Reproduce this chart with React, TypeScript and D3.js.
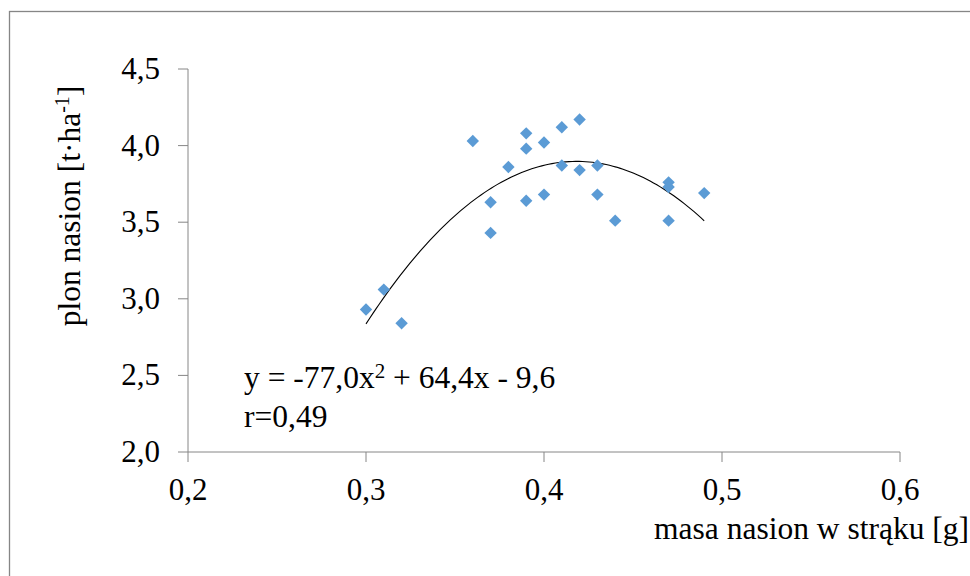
import React from "react";
import * as d3 from "d3";

const massX: number[] = [0.30, 0.31, 0.32, 0.36, 0.37, 0.37, 0.38, 0.39, 0.39, 0.39, 0.40, 0.40, 0.41, 0.41, 0.42, 0.42, 0.43, 0.43, 0.44, 0.47, 0.47, 0.47, 0.49];
const yieldY: number[] = [2.93, 3.06, 2.84, 4.03, 3.63, 3.43, 3.86, 4.08, 3.98, 3.64, 4.02, 3.68, 4.12, 3.87, 4.17, 3.84, 3.87, 3.68, 3.51, 3.76, 3.73, 3.51, 3.69];
const xTicks: number[] = [0.2, 0.3, 0.4, 0.5, 0.6];
const yTicks: number[] = [2.0, 2.5, 3.0, 3.5, 4.0, 4.5];
const eqText = { pre: "y = -77,0x", sup: "2", post: " + 64,4x - 9,6" };
const rText = "r=0,49";
const xTitle = "masa nasion w strąku [g]";
const yTitle = { pre: "plon nasion [t·ha", sup: "-1", post: "]" };

function quadFit(xs: number[], ys: number[]): [number, number, number] {
  // least squares y = a x^2 + b x + c
  let s0 = xs.length, s1 = 0, s2 = 0, s3 = 0, s4 = 0, t0 = 0, t1 = 0, t2 = 0;
  xs.forEach((x, i) => {
    const y = ys[i];
    s1 += x; s2 += x * x; s3 += x * x * x; s4 += x * x * x * x;
    t0 += y; t1 += x * y; t2 += x * x * y;
  });
  const M = [
    [s4, s3, s2, t2],
    [s3, s2, s1, t1],
    [s2, s1, s0, t0],
  ];
  for (let i = 0; i < 3; i++) {
    let p = i;
    for (let r = i + 1; r < 3; r++) if (Math.abs(M[r][i]) > Math.abs(M[p][i])) p = r;
    [M[i], M[p]] = [M[p], M[i]];
    for (let r = 0; r < 3; r++) {
      if (r === i) continue;
      const f = M[r][i] / M[i][i];
      for (let c = i; c < 4; c++) M[r][c] -= f * M[i][c];
    }
  }
  return [M[0][3] / M[0][0], M[1][3] / M[1][1], M[2][3] / M[2][2]];
}

export default function App() {
  const W = 970, H = 576;
  const x = d3.scaleLinear().domain([0.2, 0.6]).range([188, 900]);
  const y = d3.scaleLinear().domain([2.0, 4.5]).range([452, 69]);
  const fmt = (v: number) => d3.format(".1f")(v).replace(".", ",");
  const [a, b, c] = quadFit(massX, yieldY);
  const xMin = d3.min(massX) as number;
  const xMax = d3.max(massX) as number;
  const curvePts = d3.range(0, 101).map((i) => {
    const xv = xMin + ((xMax - xMin) * i) / 100;
    return [xv, a * xv * xv + b * xv + c] as [number, number];
  });
  const line = d3.line<[number, number]>().x((d) => x(d[0])).y((d) => y(d[1]));
  const diamond = d3.symbol().type(d3.symbolDiamond2).size(98)();
  const axisColor = "#868686";
  const font = "'Liberation Serif', 'Times New Roman', serif";

  return (
    <svg
      width={W}
      height={H}
      style={{ position: "absolute", left: 0, top: 0, background: "#fff" }}
      fontFamily={font}
    >
      <rect x={9.5} y={11.5} width={1000} height={1000} fill="#fff" stroke={axisColor} strokeWidth={1.3} />
      {/* axes */}
      <line x1={x(0.2)} x2={x(0.2)} y1={y(2.0)} y2={y(4.5)} stroke={axisColor} strokeWidth={1} />
      <line x1={x(0.2)} x2={x(0.6)} y1={y(2.0)} y2={y(2.0)} stroke={axisColor} strokeWidth={1} />
      {yTicks.map((t) => (
        <g key={"y" + t}>
          <line x1={x(0.2) - 10} x2={x(0.2)} y1={y(t)} y2={y(t)} stroke={axisColor} />
          <text x={160} y={y(t) + 10} textAnchor="end" fontSize={31} fill="#000">
            {fmt(t)}
          </text>
        </g>
      ))}
      {xTicks.map((t) => (
        <g key={"x" + t}>
          <line x1={x(t)} x2={x(t)} y1={y(2.0)} y2={y(2.0) + 10} stroke={axisColor} />
          <text x={x(t)} y={500} textAnchor="middle" fontSize={31} fill="#000">
            {fmt(t)}
          </text>
        </g>
      ))}
      {/* trendline */}
      <path d={line(curvePts) || ""} fill="none" stroke="#000" strokeWidth={1.1} />
      {/* points */}
      {massX.map((xv, i) => (
        <path key={"p" + i} d={diamond || ""} transform={`translate(${x(xv)},${y(yieldY[i])})`} fill="#5B9BD5" />
      ))}
      {/* equation */}
      <text x={244} y={388} fontSize={31.5} fill="#000">
        {eqText.pre}
        <tspan fontSize={21} dy={-10}>{eqText.sup}</tspan>
        <tspan dy={10}>{eqText.post}</tspan>
      </text>
      <text x={244} y={427} fontSize={31.5} fill="#000">
        {rText}
      </text>
      {/* axis titles */}
      <text x={969} y={539} textAnchor="end" fontSize={31.5} fill="#000">
        {xTitle}
      </text>
      <text transform="translate(80,206) rotate(-90)" textAnchor="middle" fontSize={31.5} fill="#000">
        {yTitle.pre}
        <tspan fontSize={20} dy={-11}>{yTitle.sup}</tspan>
        <tspan dy={11}>{yTitle.post}</tspan>
      </text>
    </svg>
  );
}
